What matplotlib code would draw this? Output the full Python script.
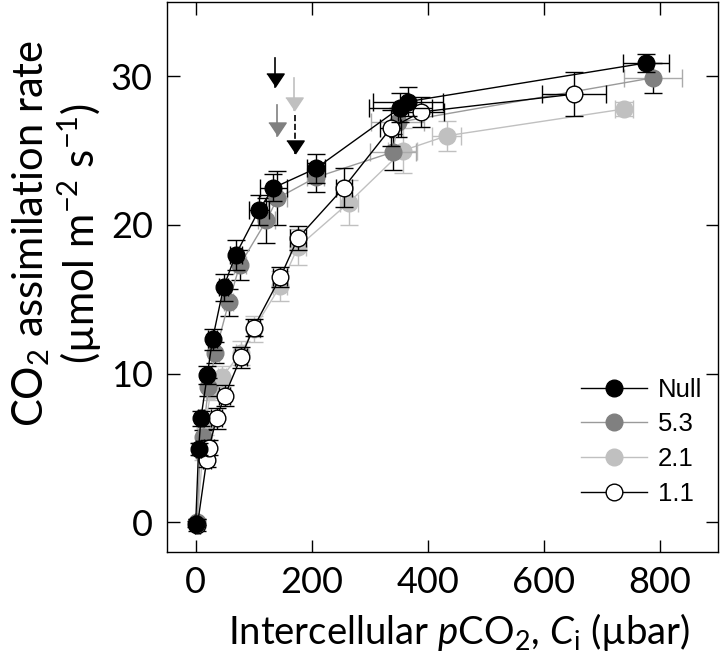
import matplotlib
matplotlib.use("Agg")
import matplotlib.pyplot as plt
import matplotlib.transforms as mtransforms
from matplotlib.lines import Line2D

plt.rcParams['font.family'] = ['Lato', 'DejaVu Sans']
plt.rcParams['mathtext.fontset'] = 'custom'
plt.rcParams['mathtext.rm'] = 'Lato'
plt.rcParams['mathtext.it'] = 'Lato:italic'

# A/Ci data per treatment (Ci in ubar, A in umol m-2 s-1)
null_x = [0, 5, 9, 20, 29, 48, 69, 109, 134, 207, 353, 366, 776]
null_y = [-0.1, 4.9, 7.0, 9.9, 12.3, 15.8, 18.0, 21.0, 22.5, 23.8, 27.9, 28.3, 30.9]
null_xerr = [3, 4, 5, 6, 7, 8, 10, 17, 23, 16, 55, 60, 40]
null_yerr = [0.2, 0.4, 0.5, 0.6, 0.7, 0.9, 1.0, 1.0, 0.9, 1.0, 1.0, 1.0, 0.6]

g53_x = [2, 8, 12, 22, 34, 57, 76, 122, 141, 207, 340, 348, 788]
g53_y = [0.0, 4.9, 5.7, 9.1, 11.4, 14.8, 17.3, 20.3, 21.8, 23.2, 24.9, 26.9, 29.9]
g53_xerr = [3, 4, 5, 6, 7, 8, 10, 14, 16, 15, 40, 45, 50]
g53_yerr = [0.2, 0.4, 0.5, 0.6, 0.7, 0.9, 1.0, 1.5, 1.8, 1.0, 1.2, 1.0, 1.0]

g21_x = [2, 12, 16, 26, 46, 78, 100, 146, 176, 264, 357, 433, 738]
g21_y = [-0.2, 4.6, 6.4, 8.8, 9.8, 11.4, 13.0, 15.9, 18.5, 21.5, 25.0, 26.0, 27.8]
g21_xerr = [3, 4, 5, 6, 7, 9, 10, 12, 14, 16, 25, 25, 15]
g21_yerr = [0.2, 0.4, 0.5, 0.6, 0.7, 0.8, 0.9, 1.0, 1.2, 1.5, 1.5, 1.0, 0.5]

o11_x = [3, 19, 23, 36, 50, 78, 100, 146, 176, 255, 336, 388, 652]
o11_y = [-0.2, 4.2, 5.0, 7.0, 8.5, 11.1, 13.1, 16.5, 19.1, 22.5, 26.5, 27.6, 28.8]
o11_xerr = [5, 7, 8, 9, 10, 10, 10, 12, 14, 14, 18, 40, 55]
o11_yerr = [0.4, 0.5, 0.5, 0.7, 0.7, 0.7, 0.6, 0.7, 0.8, 1.3, 1.2, 1.0, 1.5]

labels = ['Null', '5.3', '2.1', '1.1']
face_cols = ['black', '#808080', '#c0c0c0', 'white']
line_cols = ['black', '#9a9a9a', '#c0c0c0', 'black']
edge_cols = ['black', '#808080', '#c0c0c0', 'black']

# arrows marking the transition points
arrow_x = [136, 141, 169, 171]
arrow_top = [31.2, 28.1, 29.9, 27.4]
arrow_tip = [29.3, 26.0, 27.7, 24.8]
arrow_col = ['black', '#808080', '#c0c0c0', 'black']
arrow_ls = ['-', '-', '-', '--']

fig = plt.figure(figsize=(7.2, 6.65), dpi=100)
ax = fig.add_axes([0.2315, 0.170, 0.7655, 0.827])

ms = 12
cap = 6.5
ax.errorbar(g21_x, g21_y, xerr=g21_xerr, yerr=g21_yerr, color='#c0c0c0', ecolor='#c0c0c0',
            lw=1, elinewidth=1, capsize=cap, marker='o', ms=ms, mec='#c0c0c0', mfc='#c0c0c0',
            zorder=2)
ax.errorbar(g53_x, g53_y, xerr=g53_xerr, ecolor='#aaaaaa', fmt='none',
            elinewidth=1, capsize=cap, zorder=3)
ax.errorbar(g53_x, g53_y, yerr=g53_yerr, ecolor='black', fmt='none',
            elinewidth=1, capsize=cap, zorder=3)
ax.plot(g53_x, g53_y, color='#9a9a9a', lw=1, marker='o', ms=ms, mec='#808080',
        mfc='#808080', zorder=3)
ax.errorbar(o11_x, o11_y, xerr=o11_xerr, yerr=o11_yerr, color='black', ecolor='black',
            lw=1, elinewidth=1, capsize=cap, marker='o', ms=ms, mec='black', mfc='white',
            mew=1, zorder=4)
ax.errorbar(null_x, null_y, xerr=null_xerr, yerr=null_yerr, color='black', ecolor='black',
            lw=1, elinewidth=1, capsize=cap, marker='o', ms=ms, mec='black', mfc='black',
            zorder=5)

tri = [(-1, 0.75), (1, 0.75), (0, -0.75)]
tip_off = mtransforms.offset_copy(ax.transData, fig=fig, y=6.5, units='dots')
for xa, yt, yb, c, ls in zip(arrow_x, arrow_top, arrow_tip, arrow_col, arrow_ls):
    ax.plot([xa, xa], [yt, yb], color=c, lw=1.2, ls=ls, zorder=6)
    ax.plot([xa], [yb], marker=tri, ms=12.5, color=c, mec=c, ls='none',
            transform=tip_off, zorder=6)

ax.set_xlim(-50, 900)
ax.set_ylim(-2, 35)
ax.set_xticks([0, 200, 400, 600, 800])
ax.set_yticks([0, 10, 20, 30])
ax.tick_params(direction='in', length=9, width=1, labelsize=26, pad=10,
               top=True, right=True)
for s in ax.spines.values():
    s.set_linewidth(1)

ax.set_xlabel('Intercellular $p$CO$_2$, $C_\\mathrm{i}$ (µbar)', fontsize=27.5,
              labelpad=9, x=0.53)
ax.set_ylabel('CO$_2$ assimilation rate\n(µmol m$^{-2}$ s$^{-1}$)', fontsize=30,
              labelpad=5, linespacing=1.1, y=0.58)

handles = [Line2D([], [], color=lc, lw=1, marker='o', ms=ms, mfc=fc, mec=ec)
           for lc, fc, ec in zip(line_cols, face_cols, edge_cols)]
ax.legend(handles, labels, loc='lower right', bbox_to_anchor=(0.99, 0.065),
          frameon=False, prop={'family': 'Liberation Sans', 'size': 18.5},
          handlelength=2.6, handletextpad=0.4, labelspacing=0.42, borderaxespad=0)

fig.savefig('out.png', dpi=100)
